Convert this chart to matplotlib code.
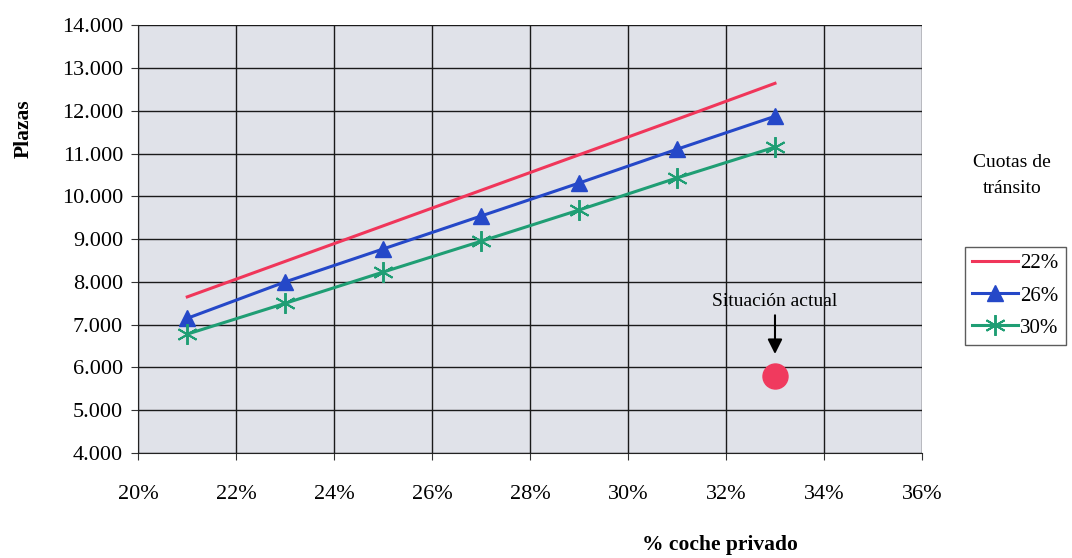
import numpy as np
import matplotlib
matplotlib.use("Agg")
import matplotlib.pyplot as plt
from matplotlib.ticker import FuncFormatter

# datos: plazas necesarias segun % de coche privado y cuota de transito
coche_privado = [21, 23, 25, 27, 29, 31, 33]
plazas_22 = [7650, 8480, 9310, 10140, 10970, 11800, 12640]
plazas_26 = [7150, 8000, 8770, 9540, 10310, 11100, 11870]
plazas_30 = [6780, 7500, 8230, 8950, 9680, 10430, 11150]
actual_x = 33
actual_y = 5800

plt.rcParams['font.family'] = ['Liberation Serif', 'DejaVu Serif']

fig = plt.figure(figsize=(10.72, 5.58), dpi=100)
ax = fig.add_axes([0.129, 0.188, 0.731, 0.767])
ax.set_facecolor('#e0e2e9')

ax.plot(coche_privado, plazas_22, color='#f0365a', lw=2.2, label='22%')
ax.plot(coche_privado, plazas_26, color='#2548c8', lw=2.2, marker='^',
        markersize=12, label='26%')
ax.plot(coche_privado, plazas_30, color='#1f9e74', lw=2.2, marker=(6, 2, 0),
        markersize=15, markeredgewidth=1.4, label='30%')

# situacion actual
ax.plot(actual_x, actual_y, 'o', color='#f03a5e', markersize=18, zorder=5)
ax.annotate('Situación actual', xy=(actual_x, actual_y + 450),
            xytext=(actual_x, actual_y + 1550), ha='center', va='bottom',
            fontsize=14,
            arrowprops=dict(arrowstyle='-|>', color='black', lw=1.5,
                            mutation_scale=22))

ax.set_xlim(20, 36)
ax.set_ylim(4000, 14000)
ax.set_xticks(np.arange(20, 37, 2))
ax.set_yticks(np.arange(4000, 14001, 1000))
ax.xaxis.set_major_formatter(FuncFormatter(lambda v, p: f'{v:.0f}%'))
ax.yaxis.set_major_formatter(FuncFormatter(lambda v, p: f'{v/1000:.0f}.000'))
ax.tick_params(labelsize=16, length=5, color='#333333')
ax.tick_params(axis='x', pad=18)
ax.tick_params(axis='y', pad=6)
ax.grid(True, color='#1a1a1a', lw=1.0)
ax.set_axisbelow(True)
for s in ['top', 'right']:
    ax.spines[s].set_visible(False)
for s in ['left', 'bottom']:
    ax.spines[s].set_color('#222222')

fig.text(0.022, 0.77, 'Plazas', rotation=90, fontsize=15.5, fontweight='bold',
         ha='center', va='center')
fig.text(0.672, 0.005, '% coche privado', fontsize=15.5, fontweight='bold',
         ha='center', va='bottom')

fig.text(0.944, 0.686, 'Cuotas de\ntránsito', fontsize=14, ha='center',
         va='center', linespacing=1.7)
leg = fig.legend(loc='center', bbox_to_anchor=(0.947, 0.470), fontsize=15,
                 frameon=True, fancybox=False, handlelength=2.2,
                 handletextpad=0.1, borderpad=0.35, labelspacing=0.6,
                 borderaxespad=0)
leg.get_frame().set_edgecolor('#333333')
leg.get_frame().set_linewidth(1)

fig.savefig('out.png', dpi=100)
